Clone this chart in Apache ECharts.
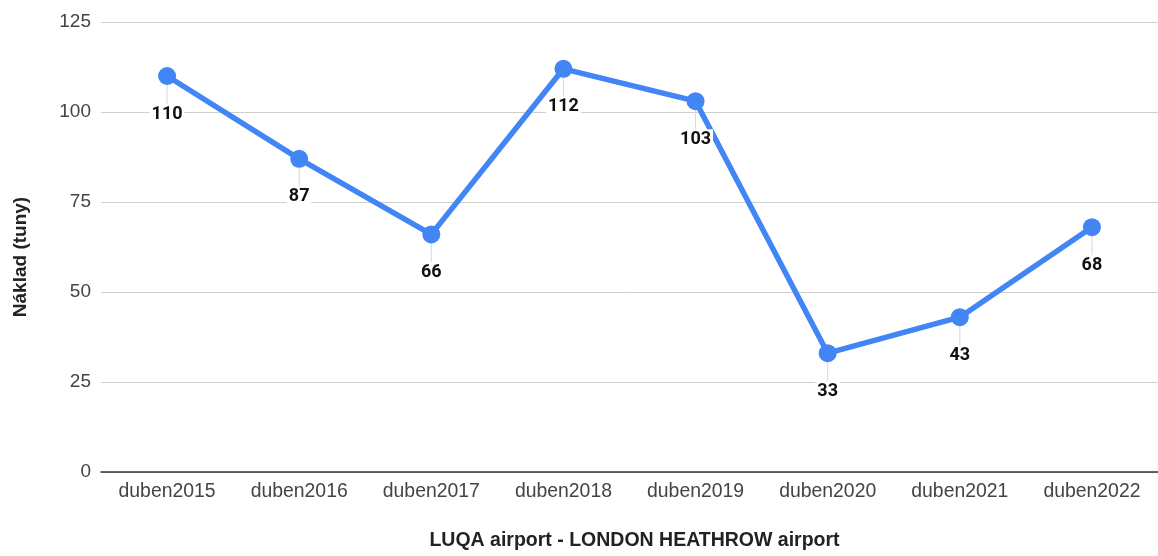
<!DOCTYPE html>
<html><head><meta charset="utf-8">
<script src="https://cdn.jsdelivr.net/npm/echarts@6/dist/echarts.min.js"></script>
<style>html,body{margin:0;padding:0;background:#fff}#c{width:1158px;height:556px}</style>
</head><body><div id="c"></div>
<script>
const categories = ['duben2015','duben2016','duben2017','duben2018','duben2019','duben2020','duben2021','duben2022'];
const values = [110, 87, 66, 112, 103, 33, 43, 68];
const yTicks = [0, 25, 50, 75, 100, 125];
const xTitle = 'LUQA airport - LONDON HEATHROW airport';
const yTitle = 'Náklad (tuny)';

const chart = echarts.init(document.getElementById('c'), null, {renderer:'canvas'});
chart.setOption({
  animation: false,
  backgroundColor: '#fff',
  grid: {left: 101, top: 22, width: 1070, height: 456, containLabel: false},
  xAxis: {
    type: 'category', data: categories, boundaryGap: true,
    name: xTitle, nameLocation: 'middle', nameGap: 59,
    nameTextStyle: {fontFamily: 'Liberation Sans', fontWeight: 'bold', fontSize: 19.5, color: '#222', padding: [0, 0, 0, 10]},
    axisLine: {lineStyle: {color: '#333', width: 1.5}},
    axisTick: {show: false},
    axisLabel: {fontFamily: 'Liberation Sans', fontSize: 19.4, color: '#444', margin: 10}
  },
  yAxis: {
    type: 'value', min: yTicks[0], max: yTicks[yTicks.length-1], interval: 25,
    name: yTitle, nameLocation: 'middle', nameGap: 71, nameRotate: 90,
    nameTextStyle: {fontFamily: 'Liberation Sans', fontWeight: 'bold', fontSize: 19, color: '#222', padding: [0, 20, 0, 0]},
    axisLine: {show: false}, axisTick: {show: false},
    splitLine: {lineStyle: {color: '#cfcfcf', width: 1}},
    axisLabel: {fontFamily: 'Liberation Sans', fontSize: 19, color: '#444', margin: 10}
  },
  series: [
    {
      type: 'custom',
      data: values.map((v,i)=>[i,v]),
      z: 1,
      renderItem: function(params, api){
        const p = api.coord([api.value(0), api.value(1)]);
        return {type:'line', shape:{x1:p[0], y1:p[1], x2:p[0], y2:p[1]+29}, style:{stroke:'#d8d8d8', lineWidth:1}};
      }
    },
    {
      type: 'line', data: values, z: 3,
      symbol: 'circle', symbolSize: 18,
      lineStyle: {color: '#4285F4', width: 5.5},
      itemStyle: {color: '#4285F4'},
      label: {
        show: true, position: 'bottom', distance: 19,
        fontFamily: 'Roboto', fontWeight: 'bold', fontSize: 18, color: '#111',
        backgroundColor: '#fff', padding: [1, 2]
      }
    }
  ]
});
</script></body></html>
